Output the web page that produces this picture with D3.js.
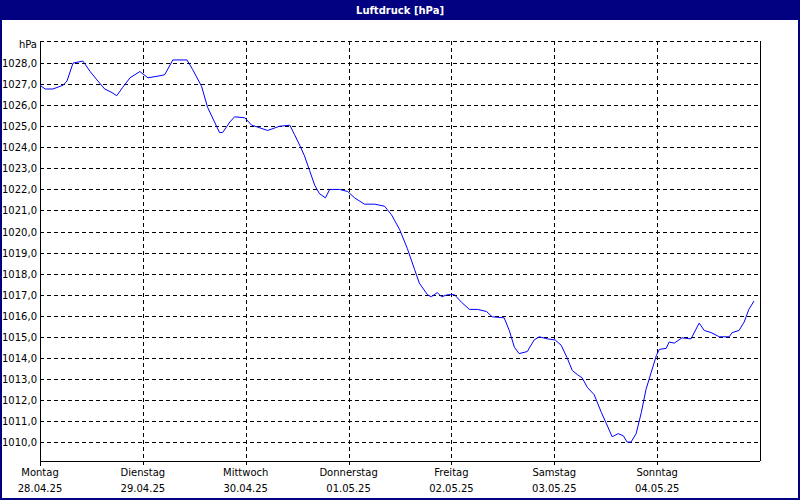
<!DOCTYPE html>
<html>
<head>
<meta charset="utf-8">
<script src="https://cdn.jsdelivr.net/npm/d3@7"></script>
<style>
  body { margin: 0; background: #fff; }
  svg text { font-family: "DejaVu Sans", sans-serif; font-size: 10px; fill: #000; }
</style>
</head>
<body>
<div id="chart"></div>
<script>
// data: hours since Mon 28.04.25 00:00 and pressure in hPa
const hours = [0, 1.2, 3.0, 5.4, 6.3, 7.7, 10.0, 11.7, 13.3, 15.1, 16.8, 17.9, 19.3, 21.0, 23.3, 25.2, 28.0, 29.1,
  31.0, 34.3, 35.6, 37.7, 39.1, 41.9, 42.6, 44.3, 45.4, 47.8, 49.4, 50.8, 53.1, 55.9, 58.3, 59.4, 60.6, 61.7,
  62.9, 64.1, 65.2, 66.6, 67.6, 69.9, 71.8, 73.4, 75.7, 78.1, 80.4, 82.0, 83.9, 85.7, 87.4, 88.5, 90.4, 91.3,
  92.7, 93.7, 95.1, 96.7, 98.3, 100.2, 102.1, 104.2, 105.5, 108.3, 109.5, 110.7, 111.8, 113.7, 115.3, 116.5,
  118.4, 120.2, 121.6, 123.0, 124.2, 125.4, 126.5, 127.7, 129.3, 131.0, 132.1, 133.5, 134.9, 136.1, 137.0,
  137.9, 139.1, 140.3, 141.4, 142.6, 143.8, 144.5, 146.1, 146.8, 148.0, 149.8, 151.9, 153.8, 155.0, 156.6,
  158.5, 160.8, 161.5, 163.1, 164.3, 165.4, 166.6];
const pressure = [1026.95, 1026.77, 1026.77, 1026.95, 1027.15, 1028.0, 1028.1, 1027.6, 1027.2, 1026.77, 1026.6,
  1026.45, 1026.85, 1027.3, 1027.6, 1027.3, 1027.4, 1027.45, 1028.15, 1028.15, 1027.7, 1026.9, 1025.9, 1024.7,
  1024.7, 1025.2, 1025.45, 1025.4, 1025.05, 1024.96, 1024.8, 1025.0, 1025.05, 1024.6, 1024.1, 1023.6, 1022.9,
  1022.2, 1021.8, 1021.6, 1022.0, 1022.0, 1021.9, 1021.6, 1021.3, 1021.3, 1021.2, 1020.8, 1020.1, 1019.2,
  1018.2, 1017.55, 1017.0, 1016.9, 1017.1, 1016.9, 1017.0, 1017.0, 1016.65, 1016.3, 1016.3, 1016.2, 1015.95,
  1015.9, 1015.3, 1014.5, 1014.2, 1014.3, 1014.85, 1015.0, 1014.9, 1014.85, 1014.6, 1014.0, 1013.4, 1013.2,
  1013.05, 1012.6, 1012.25, 1011.4, 1010.9, 1010.25, 1010.4, 1010.3, 1010.0, 1010.0, 1010.4, 1011.4, 1012.5,
  1013.3, 1014.1, 1014.4, 1014.45, 1014.75, 1014.7, 1014.95, 1014.9, 1015.65, 1015.3, 1015.2, 1015.0, 1015.0,
  1015.2, 1015.3, 1015.7, 1016.3, 1016.7];
const dayNames = ["Montag", "Dienstag", "Mittwoch", "Donnerstag", "Freitag", "Samstag", "Sonntag"];
const dayDates = ["28.04.25", "29.04.25", "30.04.25", "01.05.25", "02.05.25", "03.05.25", "04.05.25"];
const yTicks = d3.range(1010, 1029);

const W = 800, H = 500;
const margin = {top: 41, right: 40, bottom: 39, left: 40};
const width = W - margin.left - margin.right;
const height = H - margin.top - margin.bottom;

const svg = d3.select("#chart").append("svg").attr("width", W).attr("height", H);

// window frame + title bar
svg.append("rect").attr("x", 1).attr("y", 1).attr("width", W - 2).attr("height", H - 2)
  .attr("fill", "#fff").attr("stroke", "#000080").attr("stroke-width", 2);
svg.append("rect").attr("width", W).attr("height", 20).attr("fill", "#000080");
svg.append("text").attr("x", W / 2).attr("y", 14).attr("text-anchor", "middle")
  .style("fill", "#fff").style("font-weight", "bold").text("Luftdruck [hPa]");

const g = svg.append("g").attr("transform", `translate(${margin.left},${margin.top})`);

const x = d3.scaleLinear().domain([0, 168]).range([0, width]);
const y = d3.scaleLinear().domain([1009.1, 1029.05]).range([height, 0]);

// horizontal grid
g.append("g").selectAll("line").data(yTicks).join("line")
  .attr("x1", 0).attr("x2", width)
  .attr("y1", d => Math.round(y(d)) + 0.5).attr("y2", d => Math.round(y(d)) + 0.5)
  .attr("stroke", "#000").attr("stroke-dasharray", "4,3");
// top dashed line
g.append("line").attr("x1", 0).attr("x2", width).attr("y1", 0.5).attr("y2", 0.5)
  .attr("stroke", "#000").attr("stroke-dasharray", "4,3");

// vertical grid
const dayIdx = d3.range(1, 7);
g.append("g").selectAll("line").data(dayIdx).join("line")
  .attr("x1", d => Math.round(x(d * 24)) + 0.5).attr("x2", d => Math.round(x(d * 24)) + 0.5)
  .attr("y1", 0).attr("y2", height + 5)
  .attr("stroke", "#000").attr("stroke-dasharray", "4,3");

// y labels
g.append("g").selectAll("text").data(yTicks).join("text")
  .attr("x", -3).attr("y", d => y(d) + 4).attr("text-anchor", "end")
  .text(d => d.toFixed(1).replace(".", ","));
g.append("text").attr("x", -3).attr("y", 7).attr("text-anchor", "end").text("hPa");

// axes frame
g.append("line").attr("x1", 0.5).attr("x2", 0.5).attr("y1", 0).attr("y2", height + 5).attr("stroke", "#000");
g.append("line").attr("x1", width + 0.5).attr("x2", width + 0.5).attr("y1", 0).attr("y2", height).attr("stroke", "#000");
g.append("line").attr("x1", 0).attr("x2", width).attr("y1", height + 0.5).attr("y2", height + 0.5).attr("stroke", "#000");

// x labels
const lab = g.append("g").selectAll("g").data(d3.range(7)).join("g")
  .attr("transform", d => `translate(${x(d * 24)},${height})`);
lab.append("text").attr("y", 15).attr("text-anchor", "middle").text(d => dayNames[d]);
lab.append("text").attr("y", 31).attr("text-anchor", "middle").text(d => dayDates[d]);

// line
const line = d3.line().x((d, i) => x(hours[i])).y(d => y(d));
g.append("path").datum(pressure).attr("d", line)
  .attr("fill", "none").attr("stroke", "#0000ff").attr("stroke-width", 1);
</script>
</body>
</html>
